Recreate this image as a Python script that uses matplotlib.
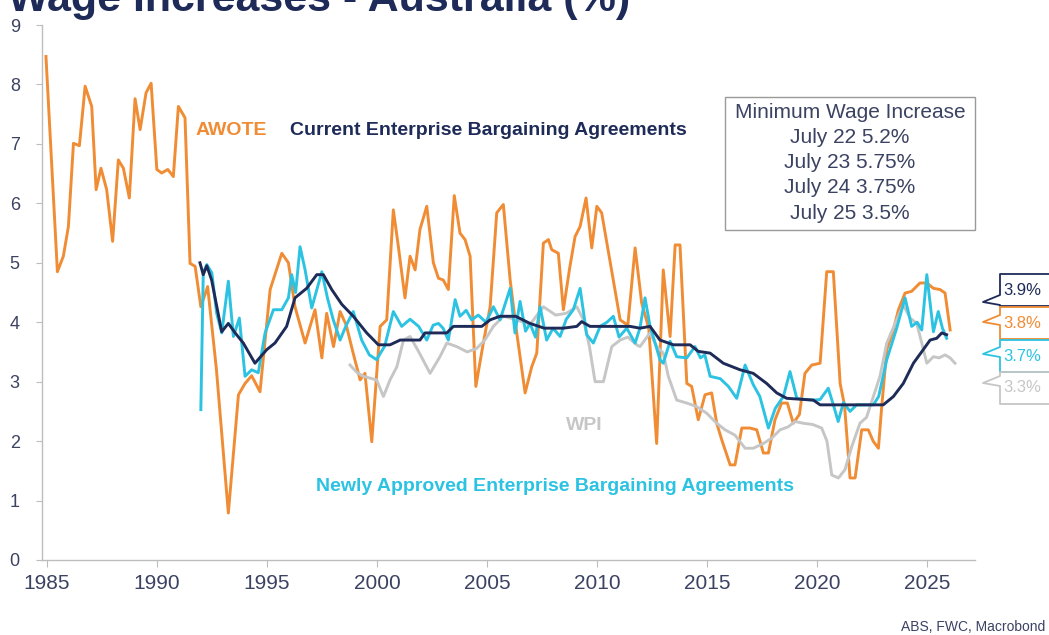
import matplotlib
matplotlib.use('Agg')
import matplotlib.pyplot as plt
from matplotlib.lines import Line2D
from matplotlib.patches import Rectangle

# data (year, %)
awote_years = [1984.95, 1985.47, 1985.74, 1985.97, 1986.2, 1986.47, 1986.73, 1987.03, 1987.23, 1987.45,
               1987.71, 1987.98, 1988.24, 1988.47, 1988.74, 1989.0, 1989.23, 1989.5, 1989.73, 1989.99,
               1990.21, 1990.49, 1990.74, 1990.97, 1991.27, 1991.5, 1991.73, 1991.99, 1992.3, 1992.7,
               1993.24, 1993.7, 1994.0, 1994.3, 1994.68, 1995.14, 1995.67, 1995.97, 1996.27, 1996.73,
               1997.18, 1997.49, 1997.71, 1998.02, 1998.32, 1998.6, 1998.9, 1999.23, 1999.45, 1999.76,
               2000.14, 2000.44, 2000.74, 2000.97, 2001.27, 2001.5, 2001.73, 2001.95, 2002.26, 2002.56,
               2002.79, 2003.01, 2003.24, 2003.51, 2003.77, 2004.0, 2004.23, 2004.49, 2004.83, 2005.14,
               2005.44, 2005.74, 2006.05, 2006.35, 2006.73, 2007.03, 2007.26, 2007.56, 2007.79, 2007.94,
               2008.24, 2008.47, 2008.75, 2009.0, 2009.23, 2009.5, 2009.76, 2009.99, 2010.21, 2010.6,
               2011.05, 2011.4, 2011.73, 2012.03, 2012.35, 2012.71, 2013.01, 2013.32, 2013.55, 2013.77,
               2014.08, 2014.3, 2014.6, 2014.91, 2015.21, 2015.44, 2015.67, 2016.05, 2016.27, 2016.58,
               2016.95, 2017.26, 2017.56, 2017.79, 2018.09, 2018.39, 2018.65, 2018.92, 2019.2, 2019.45,
               2019.76, 2020.14, 2020.44, 2020.74, 2021.05, 2021.25, 2021.5, 2021.73, 2022.03, 2022.33,
               2022.55, 2022.79, 2022.94, 2023.17, 2023.47, 2023.7, 2024.0, 2024.3, 2024.68, 2024.99,
               2025.29, 2025.59, 2025.82, 2026.05]
awote_vals = [8.47, 4.85, 5.11, 5.61, 7.01, 6.97, 7.97, 7.63, 6.23, 6.59,
              6.23, 5.36, 6.73, 6.59, 6.09, 7.76, 7.24, 7.86, 8.02, 6.57,
              6.51, 6.57, 6.45, 7.63, 7.44, 4.99, 4.94, 4.26, 4.6, 3.2,
              0.79, 2.78, 2.97, 3.1, 2.83, 4.55, 5.16, 5.0, 4.26, 3.65,
              4.21, 3.4, 4.15, 3.59, 4.18, 3.95, 3.5, 3.03, 3.14, 1.99,
              3.93, 4.04, 5.89, 5.27, 4.41, 5.11, 4.88, 5.56, 5.95, 5.0,
              4.74, 4.71, 4.55, 6.13, 5.5, 5.39, 5.11, 2.92, 3.65, 4.26,
              5.84, 5.98, 4.71, 3.82, 2.81, 3.25, 3.48, 5.33, 5.39, 5.22,
              5.16, 4.21, 4.9, 5.44, 5.61, 6.09, 5.25, 5.95, 5.84, 5.0,
              4.04, 3.95, 5.25, 4.32, 3.9, 1.96, 4.88, 3.76, 5.3, 5.3,
              2.97, 2.92, 2.36, 2.78, 2.81, 2.3, 2.02, 1.6, 1.6, 2.22,
              2.22, 2.19, 1.8, 1.8, 2.36, 2.64, 2.64, 2.3, 2.45, 3.14,
              3.28, 3.31, 4.85, 4.85, 2.97, 2.6, 1.38, 1.38, 2.19, 2.19,
              2.0, 1.88, 2.58, 3.54, 3.87, 4.21, 4.49, 4.52, 4.66, 4.66,
              4.57, 4.55, 4.49, 3.87]

cur_eba_years = [1991.95, 1992.1, 1992.26, 1992.48, 1992.94, 1993.24, 1993.55, 1993.92, 1994.45, 1994.99,
                 1995.36, 1995.89, 1996.27, 1996.8, 1997.26, 1997.56, 1997.94, 1998.4, 1998.92, 1999.53,
                 2000.06, 2000.59, 2001.05, 2001.95, 2002.18, 2003.17, 2003.47, 2004.76, 2005.14, 2005.59,
                 2006.3, 2006.95, 2007.6, 2008.47, 2009.08, 2009.3, 2009.68, 2011.5, 2011.95, 2012.41,
                 2012.86, 2013.47, 2014.23, 2014.6, 2015.14, 2015.74, 2016.5, 2017.1, 2017.71, 2018.17,
                 2018.62, 2019.83, 2020.14, 2023.01, 2023.47, 2023.92, 2024.38, 2024.83, 2025.14, 2025.44,
                 2025.67, 2025.89]
cur_eba_vals = [5.0, 4.8, 4.95, 4.71, 3.84, 3.98, 3.82, 3.65, 3.31, 3.54,
                3.65, 3.93, 4.41, 4.57, 4.8, 4.8, 4.55, 4.3, 4.1, 3.82,
                3.62, 3.62, 3.7, 3.7, 3.82, 3.82, 3.93, 3.93, 4.04, 4.1,
                4.1, 3.98, 3.9, 3.9, 3.93, 4.01, 3.93, 3.93, 3.9, 3.93,
                3.7, 3.62, 3.62, 3.51, 3.48, 3.31, 3.2, 3.14, 2.97, 2.81,
                2.72, 2.69, 2.61, 2.61, 2.75, 2.97, 3.31, 3.54, 3.7, 3.73,
                3.82, 3.79]

new_eba_years = [1991.99, 1992.1, 1992.26, 1992.49, 1992.71, 1992.94, 1993.24, 1993.47, 1993.74, 1994.0,
                 1994.3, 1994.6, 1994.91, 1995.29, 1995.67, 1995.97, 1996.12, 1996.3, 1996.5, 1996.73,
                 1997.03, 1997.49, 1997.75, 1998.01, 1998.32, 1998.6, 1998.92, 1999.3, 1999.65, 1999.98,
                 2000.35, 2000.74, 2001.12, 2001.5, 2001.89, 2002.26, 2002.55, 2002.79, 2003.0, 2003.24,
                 2003.55, 2003.77, 2004.05, 2004.3, 2004.6, 2004.95, 2005.29, 2005.59, 2006.05, 2006.27,
                 2006.5, 2006.75, 2006.95, 2007.2, 2007.41, 2007.71, 2008.0, 2008.32, 2008.6, 2008.92,
                 2009.23, 2009.53, 2009.83, 2010.14, 2010.45, 2010.74, 2011.0, 2011.35, 2011.73, 2011.95,
                 2012.18, 2012.4, 2012.86, 2013.01, 2013.32, 2013.62, 2014.08, 2014.45, 2014.7, 2014.9,
                 2015.14, 2015.6, 2015.97, 2016.35, 2016.73, 2017.1, 2017.4, 2017.79, 2018.1, 2018.47,
                 2018.77, 2019.08, 2019.45, 2019.83, 2020.14, 2020.51, 2020.75, 2020.96, 2021.2, 2021.5,
                 2021.8, 2022.56, 2022.8, 2023.17, 2023.62, 2024.0, 2024.3, 2024.55, 2024.76, 2024.99,
                 2025.29, 2025.51, 2025.7, 2025.89]
new_eba_vals = [2.53, 4.83, 4.97, 4.83, 4.15, 3.82, 4.69, 3.76, 4.07, 3.09,
                3.2, 3.15, 3.82, 4.21, 4.21, 4.41, 4.8, 4.5, 5.27, 4.88,
                4.24, 4.85, 4.4, 4.04, 3.7, 3.95, 4.18, 3.7, 3.45, 3.37,
                3.6, 4.18, 3.93, 4.05, 3.93, 3.7, 3.95, 3.98, 3.9, 3.7,
                4.38, 4.1, 4.2, 4.04, 4.12, 4.0, 4.26, 4.04, 4.57, 3.82,
                4.35, 3.85, 3.98, 3.75, 4.26, 3.7, 3.9, 3.76, 4.05, 4.21,
                4.57, 3.79, 3.65, 3.93, 4.0, 4.1, 3.75, 3.9, 3.65, 3.9,
                4.41, 3.95, 3.37, 3.31, 3.68, 3.42, 3.4, 3.59, 3.4, 3.45,
                3.09, 3.05, 2.92, 2.72, 3.28, 2.95, 2.75, 2.22, 2.55, 2.75,
                3.17, 2.72, 2.7, 2.69, 2.7, 2.89, 2.6, 2.33, 2.65, 2.5,
                2.61, 2.61, 2.75, 3.37, 3.9, 4.41, 3.93, 4.0, 3.87, 4.8,
                3.84, 4.18, 3.9, 3.73]

wpi_years = [1998.77, 1999.1, 1999.38, 1999.98, 2000.29, 2000.59, 2000.9, 2001.2, 2001.5, 2001.9,
             2002.41, 2002.86, 2003.17, 2003.62, 2004.1, 2004.53, 2004.9, 2005.29, 2005.74, 2006.35,
             2006.95, 2007.56, 2008.12, 2008.6, 2009.08, 2009.38, 2009.65, 2009.91, 2010.29, 2010.67,
             2011.05, 2011.4, 2011.8, 2011.95, 2012.41, 2012.7, 2013.01, 2013.24, 2013.62, 2014.08,
             2014.53, 2014.98, 2015.44, 2015.82, 2016.27, 2016.73, 2017.1, 2017.56, 2017.94, 2018.32,
             2018.69, 2019.0, 2019.38, 2019.8, 2020.21, 2020.45, 2020.67, 2020.97, 2021.27, 2021.58,
             2021.95, 2022.25, 2022.56, 2022.86, 2023.17, 2023.55, 2023.92, 2024.23, 2024.53, 2024.76,
             2024.99, 2025.29, 2025.55, 2025.82, 2026.05, 2026.27]
wpi_vals = [3.28, 3.15, 3.09, 3.03, 2.75, 3.03, 3.25, 3.7, 3.76, 3.5,
            3.14, 3.42, 3.65, 3.59, 3.5, 3.56, 3.7, 3.93, 4.1, 4.04,
            3.96, 4.26, 4.12, 4.15, 4.26, 4.04, 3.6, 3.0, 3.0, 3.59,
            3.7, 3.75, 3.62, 3.59, 3.82, 3.6, 3.48, 3.09, 2.69, 2.64,
            2.58, 2.47, 2.3, 2.19, 2.1, 1.88, 1.88, 1.96, 2.05, 2.19,
            2.24, 2.33, 2.3, 2.28, 2.22, 2.0, 1.43, 1.38, 1.52, 1.91,
            2.3, 2.4, 2.75, 3.09, 3.65, 3.98, 4.29, 4.07, 3.98, 3.65,
            3.31, 3.42, 3.4, 3.45, 3.4, 3.31]

x_ticks = [1985, 1990, 1995, 2000, 2005, 2010, 2015, 2020, 2025]
y_ticks = [0, 1, 2, 3, 4, 5, 6, 7, 8, 9]
min_wage_lines = ['Minimum Wage Increase', 'July 22 5.2%', 'July 23 5.75%', 'July 24 3.75%', 'July 25 3.5%']
end_labels = ['3.9%', '3.8%', '3.7%', '3.3%']

ORANGE = '#F08C34'
NAVY = '#1E2B58'
CYAN = '#2CC3E2'
GREY = '#C6C6C6'
TXT = '#3B4262'

plt.rcParams['font.family'] = ['Liberation Sans', 'DejaVu Sans']

W, H = 1049, 635
fig = plt.figure(figsize=(W / 100, H / 100), dpi=100)
ax = fig.add_axes([42 / W, 1 - 560 / H, (975 - 42) / W, (560 - 25) / H])

# draw order: awote, wpi, cyan, navy
ax.plot(awote_years, awote_vals, color=ORANGE, lw=2.1, zorder=2)
ax.plot(wpi_years, wpi_vals, color=GREY, lw=2.1, zorder=3)
ax.plot(new_eba_years, new_eba_vals, color=CYAN, lw=2.1, zorder=4)
ax.plot(cur_eba_years, cur_eba_vals, color=NAVY, lw=2.1, zorder=5)

ax.set_xlim(1984.77, 2027.18)
ax.set_ylim(0, 9)
ax.set_xticks(x_ticks)
ax.set_yticks(y_ticks)
for s in ['top', 'right']:
    ax.spines[s].set_visible(False)
for s in ['left', 'bottom']:
    ax.spines[s].set_color('#BDBDBD')
    ax.spines[s].set_linewidth(1.0)
ax.tick_params(axis='y', length=4, color='#BDBDBD', pad=12, labelsize=13, labelcolor=TXT)
ax.tick_params(axis='x', length=5, color='#BDBDBD', pad=5, labelsize=15, labelcolor=TXT)
for lab in ax.get_xticklabels() + ax.get_yticklabels():
    lab.set_fontfamily(['Liberation Sans Narrow', 'Liberation Sans'])

# series names
ax.text(1991.73, 7.22, 'AWOTE', color=ORANGE, fontsize=14, fontweight='bold', va='center')
ax.text(1996.05, 7.22, 'Current Enterprise Bargaining Agreements', color=NAVY, fontsize=14,
        fontweight='bold', va='center')
ax.text(2008.6, 2.27, 'WPI', color=GREY, fontsize=14, fontweight='bold', va='center')
ax.text(1997.23, 1.23, 'Newly Approved Enterprise Bargaining Agreements', color=CYAN, fontsize=14,
        fontweight='bold', va='center')

# title (clipped at top as in the reference)
fig.text(8 / W, 1 - 11 / H, 'Wage Increases - Australia (%)', color=NAVY, fontsize=31,
         fontweight='bold', va='baseline', ha='left')

# minimum wage box
fig.add_artist(Rectangle((725 / W, 1 - 230 / H), 250 / W, 133 / H, transform=fig.transFigure,
                         facecolor='white', edgecolor='#9A9A9A', lw=1.0, zorder=6))
for i, line in enumerate(min_wage_lines):
    fig.text(850 / W, 1 - (112 + i * 25.3) / H, line, color=TXT, fontsize=15, ha='center',
             va='center', zorder=7)

# right-hand value callouts
end_colors = [NAVY, ORANGE, CYAN, GREY]
box_tops = [274, 307, 340, 372]
tips = [302, 322, 354, 383]
for lab, c, t, ty in zip(end_labels, end_colors, box_tops, tips):
    b = t + 32
    xs = [1060, 1000, 1000, 983, 1000, 1000, 1060]
    ys = [t, t, ty - 7, ty, ty + 3, b, b]
    fig.add_artist(Line2D([x / W for x in xs], [1 - y / H for y in ys], transform=fig.transFigure,
                          color=c, lw=1.3))
    fig.text(1003 / W, 1 - (t + 16) / H, lab, color=c, fontsize=12, va='center', ha='left')

fig.text(1045 / W, 1 - 627 / H, 'ABS, FWC, Macrobond', color=TXT, fontsize=10, ha='right',
         va='center', family=['Liberation Sans Narrow', 'Liberation Sans'])

fig.savefig('out.png', dpi=100)
